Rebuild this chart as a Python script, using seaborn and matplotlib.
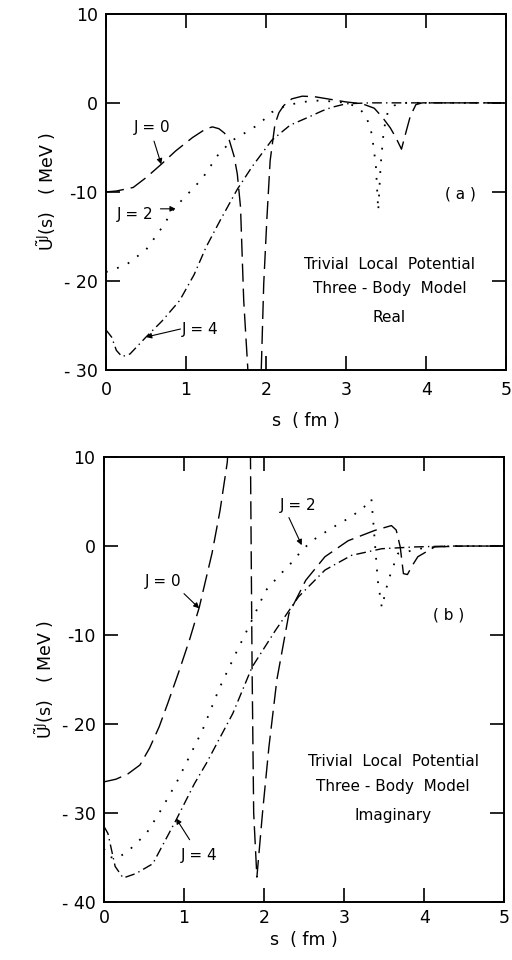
import matplotlib
matplotlib.use("Agg")
import matplotlib.pyplot as plt
import seaborn as sns

# ---------------- data ----------------
# Panel (a): Real part
a_j0_x = [0, 0.13, 0.34, 0.5, 0.69, 0.87, 1.08, 1.25, 1.33, 1.41, 1.48, 1.54, 1.60, 1.64, 1.68, 1.72,
          1.77, 1.84, 1.94, 1.97, 2.01, 2.05, 2.11, 2.16, 2.22, 2.32, 2.45, 2.6, 2.8, 3.0, 3.2, 3.35,
          3.45, 3.55, 3.62, 3.69, 3.74, 3.8, 3.87, 3.95, 4.5, 5.0]
a_j0_y = [-10, -9.9, -9.5, -8.4, -6.9, -5.4, -3.9, -2.9, -2.7, -2.9, -3.4, -4.2, -6.0, -8.0, -11.7, -22.2,
          -29.7, -45, -29.7, -20.3, -12.9, -6.5, -2.4, -1.1, -0.3, 0.45, 0.75, 0.7, 0.4, 0.1, -0.1, -0.6,
          -1.6, -2.8, -3.9, -5.2, -3.5, -1.5, -0.2, 0, 0, 0]

a_j2_x = [0, 0.25, 0.5, 0.7, 0.84, 0.96, 1.1, 1.21, 1.41, 1.58, 1.75, 1.91, 2.07, 2.25, 2.45, 2.65,
          2.85, 3.0, 3.15, 3.25, 3.32, 3.37, 3.4, 3.43, 3.47, 3.52, 3.6, 3.7, 4.0, 5.0]
a_j2_y = [-19, -18.2, -16.5, -14, -12, -10.8, -9.5, -8.4, -5.7, -4.2, -3.3, -2.4, -1.05, -0.3, 0.1, 0.25,
          0.15, 0, -0.5, -1.5, -3.5, -7, -12.1, -7, -3, -1, -0.3, 0, 0, 0]

a_j4_x = [0, 0.07, 0.13, 0.2, 0.3, 0.5, 0.7, 0.92, 1.1, 1.25, 1.42, 1.64, 1.83, 2.07, 2.3, 2.53,
          2.7, 2.82, 3.0, 3.3, 4.0, 5.0]
a_j4_y = [-25.5, -26.3, -27.8, -28.5, -28.2, -26.3, -24.5, -22.2, -19.3, -16.2, -13.3, -9.7, -7.1, -4.2,
          -2.5, -1.6, -0.9, -0.5, -0.1, 0, 0, 0]

# Panel (b): Imaginary part
b_j0_x = [0, 0.15, 0.3, 0.45, 0.57, 0.69, 0.8, 0.94, 1.07, 1.19, 1.35, 1.45, 1.54, 1.62, 1.75, 1.83,
          1.85, 1.87, 1.91, 1.98, 2.06, 2.16, 2.31, 2.52, 2.76, 3.05, 3.38, 3.59, 3.65, 3.7, 3.74,
          3.79, 3.85, 3.92, 4.13, 4.5, 5.0]
b_j0_y = [-26.5, -26.2, -25.6, -24.6, -22.7, -20.3, -17.6, -14, -10.5, -6.9, -0.8, 4, 9.4, 20, 25, 10,
          -13.6, -30, -37.2, -30, -22.6, -15, -7.6, -3.85, -1.2, 0.6, 1.75, 2.3, 1.8, -0.1, -3.1,
          -3.2, -2.2, -1.2, -0.1, 0, 0]

b_j2_x = [0, 0.05, 0.16, 0.3, 0.53, 0.69, 0.9, 1.23, 1.44, 1.65, 1.85, 2.02, 2.2, 2.35, 2.47, 2.6,
          2.84, 3.09, 3.25, 3.34, 3.37, 3.42, 3.47, 3.55, 3.67, 3.8, 4.0, 4.3, 5.0]
b_j2_y = [-34, -34.9, -35.1, -34.3, -32.3, -30, -26.7, -20.7, -16, -12, -8.3, -5, -3.2, -1.8, -0.5, 0.6,
          2.0, 3.3, 4.4, 5.3, 2, -3.9, -6.9, -3.9, -0.85, -0.6, -0.2, 0, 0]

b_j4_x = [0, 0.05, 0.14, 0.24, 0.4, 0.61, 0.9, 1.13, 1.28, 1.61, 1.85, 2.14, 2.43, 2.76, 3.09,
          3.47, 3.88, 4.3, 5.0]
b_j4_y = [-31.5, -32.3, -36, -37.3, -36.8, -35.7, -30.8, -26.7, -24.4, -18.8, -13.6, -9.5, -5.7,
          -2.7, -1.05, -0.3, -0.1, 0, 0]

x_ticks = [0, 1, 2, 3, 4, 5]
x_tick_labels = ["0", "1", "2", "3", "4", "5"]
a_y_ticks = [-30, -20, -10, 0, 10]
a_y_tick_labels = ["- 30", "- 20", "-10", "0", "10"]
b_y_ticks = [-40, -30, -20, -10, 0, 10]
b_y_tick_labels = ["- 40", "- 30", "- 20", "-10", "0", "10"]

panel_texts = ["Trivial  Local  Potential", "Three - Body  Model"]

# ---------------- styling ----------------
sns.set_theme(style="ticks")
plt.rcParams["font.family"] = ["DejaVu Sans"]
plt.rcParams["axes.unicode_minus"] = False
plt.rcParams["text.color"] = "black"
plt.rcParams["axes.labelcolor"] = "black"

DASH = (0, (13, 5))
DOT = (0, (1.0, 5.5))
DASHDOT = (0, (7, 3, 1, 3))

fig = plt.figure(figsize=(5.12, 9.6), dpi=100)
ax1 = fig.add_axes([0.207, 0.6146, 0.782, 0.371])
ax2 = fig.add_axes([0.203, 0.0604, 0.782, 0.4635])


def draw(ax, x, y, ls, lw):
    sns.lineplot(x=x, y=y, ax=ax, color="black", linewidth=lw, linestyle=ls,
                 estimator=None, sort=False)


def style_axes(ax, yticks, ylabels, ylim, xpad, labelpad):
    ax.set_xlim(0, 5)
    ax.set_ylim(*ylim)
    ax.set_xticks(x_ticks)
    ax.set_xticklabels(x_tick_labels)
    ax.set_yticks(yticks)
    ax.set_yticklabels(ylabels)
    ax.tick_params(axis="both", which="both", direction="in", length=10, width=1.2,
                   top=True, right=True, labelsize=12.5, colors="black")
    ax.tick_params(axis="x", pad=xpad)
    ax.tick_params(axis="y", pad=6)
    for sp in ax.spines.values():
        sp.set_linewidth(1.4)
        sp.set_color("black")
        sp.set_visible(True)
    ax.set_xlabel("s  ( fm )", fontsize=12.5, labelpad=labelpad, color="black")
    ax.set_ylabel(r"$\tilde{\mathrm{U}}^{\mathrm{J}}$(s)   ( MeV )", fontsize=12.5, labelpad=4,
                  color="black")


def arrow(ax, tail, tip):
    ax.annotate("", xy=tip, xytext=tail,
                arrowprops=dict(arrowstyle="-|>", color="black", lw=0.8,
                                mutation_scale=8, shrinkA=0, shrinkB=0))


def label(ax, x, y, s):
    ax.text(x, y, s, fontsize=11, ha="center", va="center", color="black")


# ----- panel (a) -----
draw(ax1, a_j0_x, a_j0_y, DASH, 1.0)
draw(ax1, a_j2_x, a_j2_y, DOT, 1.3)
draw(ax1, a_j4_x, a_j4_y, DASHDOT, 1.0)
style_axes(ax1, a_y_ticks, a_y_tick_labels, (-30, 10), 8, 9)

label(ax1, 0.58, -2.8, "J = 0")
arrow(ax1, (0.60, -4.3), (0.69, -6.9))
label(ax1, 0.36, -12.5, "J = 2")
arrow(ax1, (0.68, -11.9), (0.87, -11.9))
label(ax1, 1.17, -25.4, "J = 4")
arrow(ax1, (0.93, -25.4), (0.5, -26.3))
label(ax1, 4.43, -10.2, "( a )")
label(ax1, 3.54, -18.1, panel_texts[0])
label(ax1, 3.54, -20.9, panel_texts[1])
label(ax1, 3.54, -24.1, "Real")

# ----- panel (b) -----
draw(ax2, b_j0_x, b_j0_y, DASH, 1.0)
draw(ax2, b_j2_x, b_j2_y, DOT, 1.3)
draw(ax2, b_j4_x, b_j4_y, DASHDOT, 1.0)
style_axes(ax2, b_y_ticks, b_y_tick_labels, (-40, 10), 5, 3)

label(ax2, 2.43, 4.6, "J = 2")
arrow(ax2, (2.31, 3.2), (2.47, 0.1))
label(ax2, 0.74, -4.0, "J = 0")
arrow(ax2, (1.0, -5.35), (1.19, -7.0))
label(ax2, 1.19, -34.8, "J = 4")
arrow(ax2, (1.07, -33.0), (0.9, -30.6))
label(ax2, 4.31, -7.8, "( b )")
label(ax2, 3.61, -24.2, panel_texts[0])
label(ax2, 3.61, -27.0, panel_texts[1])
label(ax2, 3.61, -30.3, "Imaginary")

fig.savefig("out.png", dpi=100)
